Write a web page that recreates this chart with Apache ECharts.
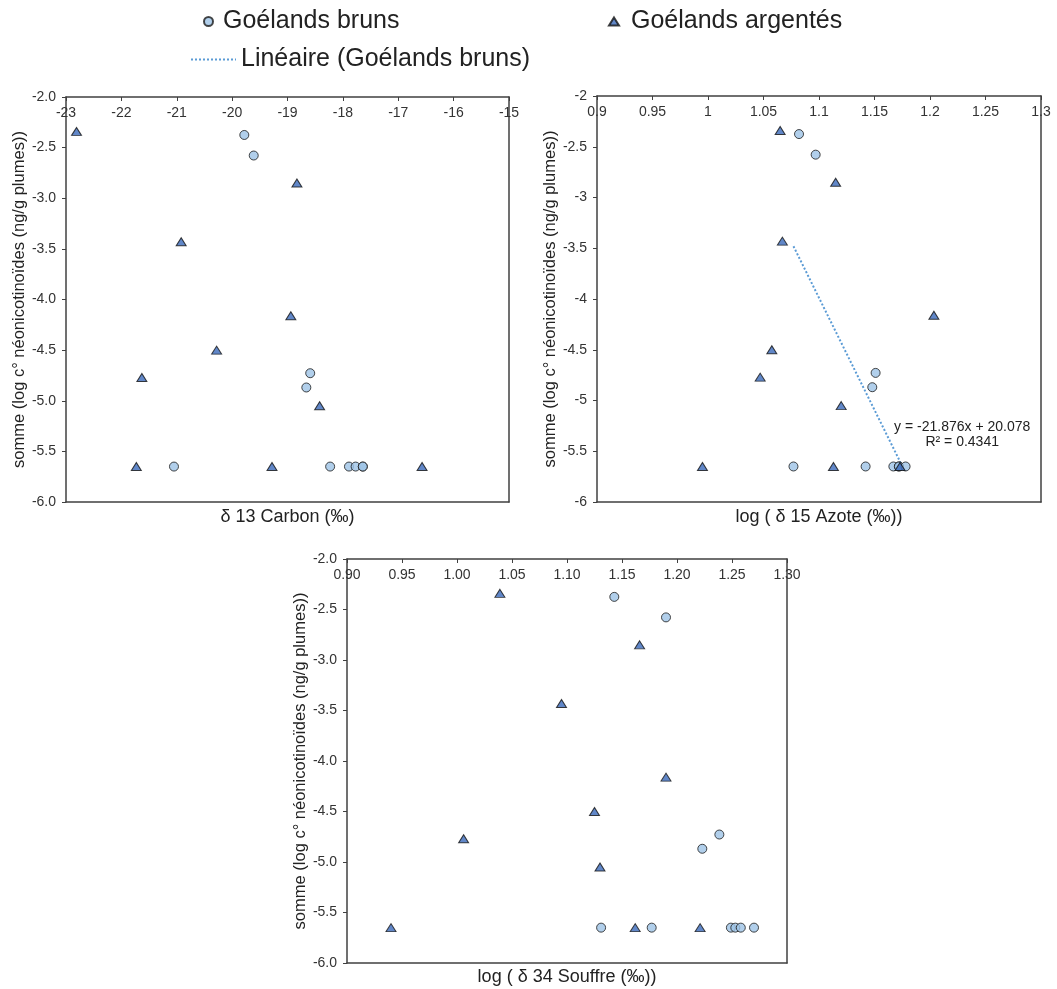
<!DOCTYPE html>
<html>
<head>
<meta charset="utf-8">
<script src="https://cdn.jsdelivr.net/npm/echarts@6/dist/echarts.min.js"></script>
<style>
html,body{margin:0;padding:0;background:#fff;}
#c{width:1057px;height:989px;}
</style>
</head>
<body>
<div id="c"></div>
<script>
// ---- data ----
const yBruns      = [-2.375, -2.578, -4.728, -4.869, -5.65, -5.65, -5.65, -5.65, -5.65, -5.65];
const carbonBruns = [-19.78, -19.61, -18.59, -18.66, -21.05, -18.23, -17.89, -17.77, -17.64, -17.64];
const azoteBruns  = [1.082, 1.097, 1.151, 1.148, 1.077, 1.142, 1.167, 1.172, 1.172, 1.178];
const soufreBruns = [1.143, 1.190, 1.2385, 1.223, 1.131, 1.177, 1.249, 1.253, 1.258, 1.270];

const yArg      = [-2.34, -2.85, -3.43, -4.16, -4.50, -4.77, -5.05, -5.65, -5.65, -5.65];
const carbonArg = [-22.81, -18.83, -20.92, -18.94, -20.28, -21.63, -18.42, -21.73, -19.28, -16.57];
const azoteArg  = [1.065, 1.115, 1.067, 1.2035, 1.0575, 1.047, 1.120, 0.995, 1.113, 1.173];
const soufreArg = [1.039, 1.166, 1.095, 1.190, 1.125, 1.006, 1.130, 0.940, 1.162, 1.221];

const trendX = [1.077, 1.177];
const trendY = [-3.48, -5.69];
const trendLabelPos = [1.229, -5.34];
const trendText = 'y = -21.876x + 20.078\nR\u00b2 = 0.4341';

const seriesNames = ['Goélands bruns', 'Goélands argentés', 'Linéaire (Goélands bruns)'];
const yTitle = 'somme (log c\u00b0 néonicotinoïdes (ng/g plumes))';
const xTitles = ['\u03b4 13 Carbon (\u2030)', 'log ( \u03b4 15 Azote (\u2030))', 'log ( \u03b4 34 Souffre (\u2030))'];
const xRanges = [[-23, -15, 1], [0.9, 1.3, 0.05], [0.9, 1.3, 0.05]];
const yRange = [-6, -2, 0.5];

// ---- styles ----
const FONT = 'Liberation Sans, Arial, sans-serif';
const LINE = '#404040';
const circleStyle = {color: '#9DC3E6', borderColor: '#1a1a1a', borderWidth: 1};
const triStyle = {color: '#3A69BA', borderColor: '#111', borderWidth: 1};

const xFormatters = [
  v => String(Math.round(v)),
  v => String(Number(v.toFixed(2))),
  v => v.toFixed(2)
];
const yFormatters = [
  v => v.toFixed(1),
  v => String(Number(v.toFixed(1))),
  v => v.toFixed(1)
];

const grids = [
  {left: 66, top: 97, width: 443, height: 405},
  {left: 597, top: 96, width: 444, height: 406},
  {left: 347, top: 559, width: 440, height: 404}
];
const yNameGaps = [36, 37, 34];
const xNameGaps = [6, 6, 5];

const xAxes = [], yAxes = [];
grids.forEach((g, i) => {
  const [mn, mx, iv] = xRanges[i];
  xAxes.push({
    type: 'value', gridIndex: i, position: 'top', min: mn, max: mx, interval: iv,
    axisLine: {show: true, onZero: false, lineStyle: {color: LINE, width: 1.5}},
    axisTick: {show: true, inside: true, length: 4, lineStyle: {color: LINE}},
    axisLabel: {show: true, inside: true, margin: 9, color: '#333', fontSize: 14, fontFamily: FONT,
      showMinLabel: true, showMaxLabel: true, formatter: xFormatters[i]},
    splitLine: {show: false}
  });
  xAxes.push({
    type: 'value', gridIndex: i, position: 'bottom', min: mn, max: mx, interval: iv,
    name: xTitles[i], nameLocation: 'middle', nameGap: xNameGaps[i],
    nameTextStyle: {color: '#222', fontSize: 18, fontFamily: FONT},
    axisLine: {show: true, onZero: false, lineStyle: {color: LINE, width: 1.5}},
    axisTick: {show: false}, axisLabel: {show: false}, splitLine: {show: false}
  });
  yAxes.push({
    type: 'value', gridIndex: i, position: 'left', min: yRange[0], max: yRange[1], interval: yRange[2],
    name: yTitle, nameLocation: 'middle', nameGap: yNameGaps[i],
    nameTextStyle: {color: '#222', fontSize: 16.5, fontFamily: FONT},
    axisLine: {show: true, onZero: false, lineStyle: {color: LINE, width: 1.5}},
    axisTick: {show: true, inside: false, length: 4, lineStyle: {color: LINE}},
    axisLabel: {show: true, margin: 10, color: '#333', fontSize: 14, fontFamily: FONT, formatter: yFormatters[i]},
    splitLine: {show: false}
  });
  yAxes.push({
    type: 'value', gridIndex: i, position: 'right', min: yRange[0], max: yRange[1], interval: yRange[2],
    axisLine: {show: true, onZero: false, lineStyle: {color: LINE, width: 1.5}},
    axisTick: {show: false}, axisLabel: {show: false}, splitLine: {show: false}
  });
});

function zip(xs, ys) { return xs.map((x, k) => [x, ys[k]]); }
const xSets = [[carbonBruns, carbonArg], [azoteBruns, azoteArg], [soufreBruns, soufreArg]];

const series = [];
xSets.forEach((pair, i) => {
  series.push({
    name: seriesNames[0], type: 'scatter', xAxisIndex: 2 * i, yAxisIndex: 2 * i,
    symbol: 'circle', symbolSize: 9, itemStyle: circleStyle, data: zip(pair[0], yBruns), z: 3
  });
  series.push({
    name: seriesNames[1], type: 'scatter', xAxisIndex: 2 * i, yAxisIndex: 2 * i,
    symbol: 'triangle', symbolSize: [10, 8], itemStyle: triStyle, data: zip(pair[1], yArg), z: 4
  });
});
series.push({
  name: seriesNames[2], type: 'line', xAxisIndex: 2, yAxisIndex: 2,
  data: zip(trendX, trendY), symbol: 'none', showSymbol: false,
  lineStyle: {color: '#5B9BD5', width: 2, type: [2, 2]}, itemStyle: {color: '#5B9BD5'}, z: 2,
  markPoint: {
    symbol: 'rect', symbolSize: 1, itemStyle: {color: 'rgba(0,0,0,0)'},
    data: [{coord: trendLabelPos, label: {show: true, position: 'inside', formatter: trendText,
      color: '#222', fontSize: 14, fontFamily: FONT, align: 'center', lineHeight: 15}}]
  }
});

const legendText = {color: '#222', fontSize: 25, fontFamily: FONT};
const option = {
  animation: false,
  backgroundColor: '#fff',
  grid: grids.map(g => Object.assign({show: false, containLabel: false}, g)),
  xAxis: xAxes,
  yAxis: yAxes,
  legend: [
    {data: [seriesNames[0]], left: 203, top: 9, padding: 0, itemWidth: 9, itemHeight: 9,
      textStyle: Object.assign({padding: [0, 0, 0, 5]}, legendText), selectedMode: false},
    {data: [seriesNames[1]], left: 608, top: 9, padding: 0, itemWidth: 10, itemHeight: 8,
      textStyle: Object.assign({padding: [0, 0, 0, 7]}, legendText), selectedMode: false},
    {data: [seriesNames[2]], left: 190, top: 47, padding: 0, itemWidth: 45, itemHeight: 4,
      itemStyle: {opacity: 0},
      textStyle: Object.assign({padding: [0, 0, 0, 0]}, legendText), selectedMode: false}
  ],
  series: series
};

const chart = echarts.init(document.getElementById('c'), null, {renderer: 'canvas'});
chart.setOption(option);
</script>
</body>
</html>
